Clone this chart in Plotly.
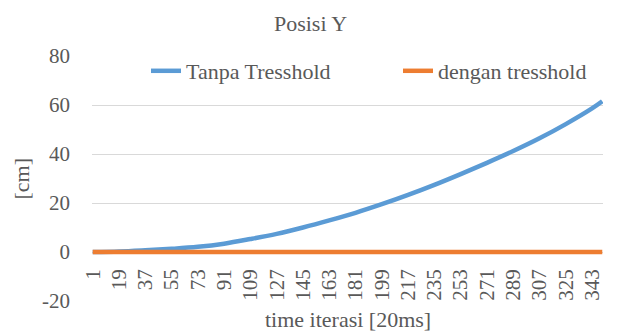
import plotly.graph_objects as go

# iteration index (every 18th step plus the final step)
iterasi = [1, 19, 37, 55, 73, 91, 109, 127, 145, 163, 181, 199, 217, 235,
           253, 271, 289, 307, 325, 343, 350]
# Y position without threshold [cm]
tanpa_tresshold = [0.0, 0.2, 0.7, 1.3, 2.1, 3.4, 5.3, 7.4, 10.0, 12.9, 16.0,
                   19.5, 23.3, 27.4, 31.8, 36.4, 41.2, 46.4, 52.2, 58.6, 61.5]
# Y position with threshold [cm]
dengan_tresshold = [0.0] * len(iterasi)

x_tick_vals = list(range(1, 344, 18))
x_tick_text = [str(v) for v in x_tick_vals]
y_tick_vals = [-20, 0, 20, 40, 60, 80]
y_tick_text = ["-20", "0", "20", "40", "60", "80"]

FONT = "Liberation Serif, Times New Roman, serif"
GREY = "#595959"

fig = go.Figure()
fig.add_trace(go.Scatter(
    x=iterasi, y=tanpa_tresshold, mode="lines", name="Tanpa Tresshold",
    line=dict(color="#5B9BD5", width=4.5, shape="spline", smoothing=1.0),
    legend="legend",
))
fig.add_trace(go.Scatter(
    x=iterasi, y=dengan_tresshold, mode="lines", name="dengan tresshold",
    line=dict(color="#ED7D31", width=4.5),
    legend="legend2",
))

legend_common = dict(orientation="h", xref="paper", yref="paper",
                     xanchor="left", y=(301 - 71) / 245, yanchor="middle",
                     bgcolor="rgba(0,0,0,0)",
                     font=dict(family=FONT, size=22, color=GREY))

fig.update_layout(
    width=621, height=332,
    margin=dict(l=92, r=18, t=56, b=31),
    paper_bgcolor="white", plot_bgcolor="white",
    font=dict(family=FONT, size=22, color=GREY),
    title=dict(text="Posisi Y", x=0.5, xref="container", xanchor="center",
               y=1 - 23 / 332, yref="container", yanchor="middle",
               font=dict(family=FONT, size=22, color=GREY)),
    showlegend=True,
    legend=dict(x=(146 - 92) / 511, **legend_common),
    legend2=dict(x=(398 - 92) / 511, **legend_common),
    xaxis=dict(
        range=[0.5, 350.5], anchor="free", position=0.2,
        tickmode="array", tickvals=x_tick_vals, ticktext=x_tick_text,
        tickangle=-90, ticks="", showgrid=False, zeroline=False,
        showline=False, automargin=False, ticklabelstandoff=12,
        tickfont=dict(family=FONT, size=21, color=GREY),
    ),
    yaxis=dict(
        range=[-20, 80], tickmode="array", tickvals=y_tick_vals,
        ticktext=y_tick_text, showgrid=True,
        gridcolor="#D9D9D9", gridwidth=1, zeroline=False, showline=False,
        ticks="", automargin=False, ticklabelstandoff=21,
        tickfont=dict(family=FONT, size=21, color=GREY),
    ),
    annotations=[
        dict(text="[cm]", textangle=-90, xref="paper", yref="paper",
             x=(21 - 92) / 511, y=0.5, xanchor="center", yanchor="middle",
             showarrow=False, font=dict(family=FONT, size=22, color=GREY)),
        dict(text="time iterasi [20ms]", xref="paper", yref="paper",
             x=0.5, y=(301 - 319) / 245, xanchor="center", yanchor="middle",
             showarrow=False, font=dict(family=FONT, size=22, color=GREY)),
    ],
)

fig.write_html("out.html")
